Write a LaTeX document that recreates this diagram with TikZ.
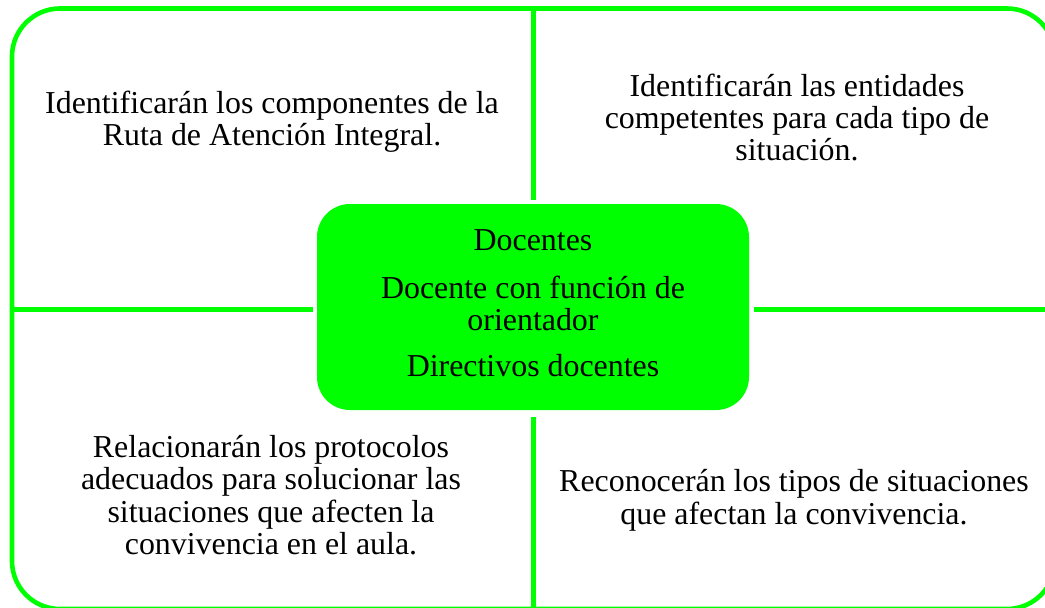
\documentclass[tikz,border=0pt]{standalone}
\usepackage{fontspec}
\setmainfont{Liberation Serif}
\definecolor{brightgreen}{HTML}{00FF00}
\tikzset{
  frame/.style={draw=brightgreen, line width=4.6pt},
  divider/.style={draw=brightgreen, line width=5pt},
  quadtext/.style={align=center, inner sep=0pt, anchor=north, font=\fontsize{31.9}{31.7}\selectfont},
  centerbox/.style={fill=brightgreen, draw=none, rounded corners=33pt, minimum width=432pt, minimum height=206pt, align=center, inner sep=0pt, font=\fontsize{31.9}{31.7}\selectfont}
}
\begin{document}
\begin{tikzpicture}[x=1pt,y=-1pt]
\clip (0,0) rectangle (1045,608);
\fill[white] (0,0) rectangle (1045,608);
% outer frame
\draw[frame, rounded corners=48pt] (12,8.5) rectangle (1055,609);
% dividers
\coordinate (vt1) at (533,8.5);
\coordinate (vt2) at (533,200);
\coordinate (vb1) at (533,417);
\coordinate (vb2) at (533,609);
\coordinate (hl1) at (12,309);
\coordinate (hl2) at (313,309);
\coordinate (hr1) at (754,309);
\coordinate (hr2) at (1055,309);
\draw[divider] (vt1) -- (vt2);
\draw[divider] (vb1) -- (vb2);
\draw[divider] (hl1) -- (hl2);
\draw[divider] (hr1) -- (hr2);
% center box
\node[centerbox] (center) at (533,307) {\strut Docentes\\[15pt]\strut Docente con función de\\\strut orientador\\[14pt]\strut Directivos docentes};
% quadrant texts
\node[quadtext] (tl) at (272,91.3) {\strut Identificarán los componentes de la\\\strut Ruta de Atención Integral.};
\node[quadtext] (tr) at (797,74) {\strut Identificarán las entidades\\\strut competentes para cada tipo de\\\strut situación.};
\node[quadtext] (bl) at (271,435.3) {\strut Relacionarán los protocolos\\\strut adecuados para solucionar las\\\strut situaciones que afecten la\\\strut convivencia en el aula.};
\node[quadtext] (br) at (794,469) {\strut Reconocerán los tipos de situaciones\\\strut que afectan la convivencia.};
\end{tikzpicture}
\end{document}
